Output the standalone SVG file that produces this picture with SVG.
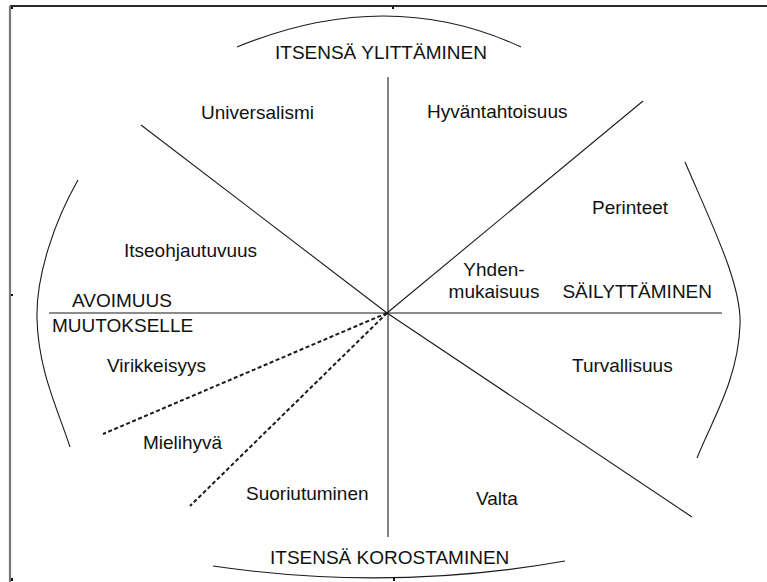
<svg xmlns="http://www.w3.org/2000/svg" width="767" height="582" viewBox="0 0 767 582">
<style>
.lbl{font-family:"Liberation Sans",Arial,sans-serif;font-size:19px;fill:#111}
.ln{stroke:#1a1a1a;stroke-width:1.1;fill:none}
.dash{stroke:#1a1a1a;stroke-width:2;fill:none;stroke-dasharray:4 2.5}
.arc{stroke:#1a1a1a;stroke-width:1.1;fill:none}
</style>
<rect width="767" height="582" fill="#ffffff"/>
<g id="frame">
<line x1="10" y1="6" x2="767" y2="6" stroke="#2a2a2a" stroke-width="2"/>
<line x1="10" y1="6" x2="10" y2="582" stroke="#777" stroke-width="2.2"/>
<rect x="11" y="7" width="2" height="2" fill="#111"/>
<rect x="392" y="7" width="2" height="2" fill="#111"/>
<rect x="11" y="294" width="2" height="2" fill="#111"/>
<rect x="11" y="578" width="2" height="3" fill="#111"/>
<rect x="393" y="578" width="2" height="3" fill="#111"/>
</g>
<g id="connectors">
<line class="ln" x1="388" y1="77" x2="388" y2="537"/>
<line class="ln" x1="49" y1="313" x2="722" y2="313"/>
<line class="ln" x1="141" y1="125" x2="387" y2="313"/>
<line class="ln" x1="643" y1="101" x2="387" y2="313"/>
<line class="ln" x1="692" y1="517" x2="387" y2="313"/>
<line class="dash" x1="387" y1="313" x2="103" y2="434"/>
<line class="dash" x1="387" y1="313" x2="190" y2="506"/>
</g>
<g id="arc-top"><path class="arc" d="M237,47 Q388,-15 521,47"/></g>
<g id="arc-bottom"><path class="arc" d="M213,566 Q390,592 565,561"/></g>
<g id="arc-left"><path class="arc" d="M78,180 C55,220 36,275 37,318 C38,370 58,410 70,447"/></g>
<g id="arc-right"><path class="arc" d="M685,162 C712,225 742,285 740,325 C738,380 712,420 697,458"/></g>
<g id="group-top"><text class="lbl" x="275" y="59">ITSENSÄ YLITTÄMINEN</text></g>
<g id="group-bottom"><text class="lbl" x="270" y="564">ITSENSÄ KOROSTAMINEN</text></g>
<g id="group-right"><text class="lbl" x="712" y="298" text-anchor="end">SÄILYTTÄMINEN</text></g>
<g id="group-left">
<text class="lbl" x="72" y="307">AVOIMUUS</text>
<text class="lbl" x="52" y="332">MUUTOKSELLE</text>
</g>
<g id="n-universalismi"><text class="lbl" x="201" y="119">Universalismi</text></g>
<g id="n-hyvantahtoisuus"><text class="lbl" x="427" y="118">Hyväntahtoisuus</text></g>
<g id="n-perinteet"><text class="lbl" x="592" y="214">Perinteet</text></g>
<g id="n-itseohjautuvuus"><text class="lbl" x="124" y="257">Itseohjautuvuus</text></g>
<g id="n-yhdenmukaisuus">
<text class="lbl" x="494" y="276" text-anchor="middle">Yhden-</text>
<text class="lbl" x="494" y="298" text-anchor="middle">mukaisuus</text>
</g>
<g id="n-virikkeisyys"><text class="lbl" x="107" y="372">Virikkeisyys</text></g>
<g id="n-turvallisuus"><text class="lbl" x="572" y="372">Turvallisuus</text></g>
<g id="n-mielihyva"><text class="lbl" x="143" y="449">Mielihyvä</text></g>
<g id="n-suoriutuminen"><text class="lbl" x="246" y="500">Suoriutuminen</text></g>
<g id="n-valta"><text class="lbl" x="476" y="505">Valta</text></g>
</svg>
